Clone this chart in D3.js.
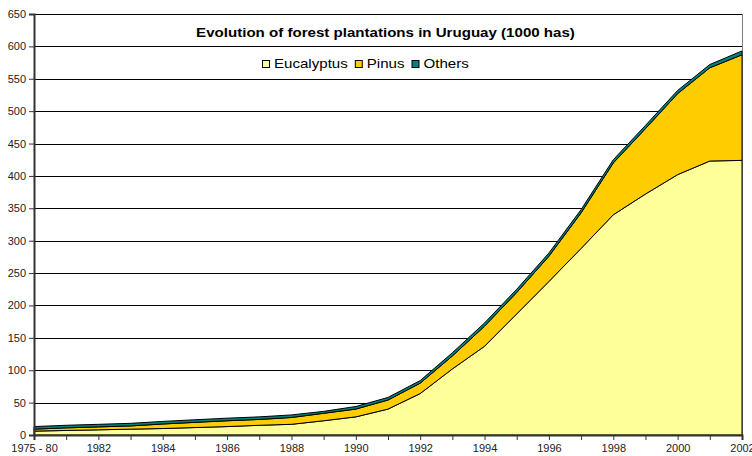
<!DOCTYPE html>
<html>
<head>
<meta charset="utf-8">
<script src="https://d3js.org/d3.v7.min.js"></script>
<style>
    body { margin: 0; background: #fff; }
    svg text { font-family: Arial, "Liberation Sans", sans-serif; }
</style>
</head>
<body>
<script>
// categories on the x axis
years = ["1975 - 80", "1981", "1982", "1983", "1984", "1985", "1986", "1987", "1988", "1989", "1990",
    "1991", "1992", "1993", "1994", "1995", "1996", "1997", "1998", "1999", "2000", "2001", "2002"]

// 1000 has
eucalyptus = [6, 7, 8, 9, 10, 11.5, 13, 15, 16.5, 22, 28, 40, 64, 102, 137, 187, 237, 288, 340, 372, 402, 423, 424]
pinus = [3, 4, 4.5, 5, 7, 8, 9, 9, 10.5, 11.5, 12, 14, 16, 20, 31, 33, 39, 55, 80, 101, 125, 144, 163]
others = [4, 4, 4, 4, 4, 4, 4, 4, 4, 3, 4, 4, 4, 5, 5, 5, 5, 5, 5, 5, 5, 5, 6]

yTicks = [0, 50, 100, 150, 200, 250, 300, 350, 400, 450, 500, 550, 600, 650]

seriesNames = ["Eucalyptus", "Pinus", "Others"]
colors = ["#FFFF99", "#FFCC00", "#008080"]

// note: "top" is taken by window.top, so plot* names
svgW = 752
svgH = 456
plotLeft = 34
plotRight = 742
plotTop = 14
plotBottom = 435

// the title/legend text in the original is a bit wider than plain Arial
stretch = 1.16

svg = d3.select("body").append("svg").attr("width", svgW).attr("height", svgH)

x = d3.scalePoint().domain(years).range([plotLeft, plotRight])
y = d3.scaleLinear().domain([0, 650]).range([plotBottom, plotTop])

// gridlines
svg.append("g").selectAll("line").data(yTicks.slice(1)).enter().append("line")
    .attr("x1", plotLeft).attr("x2", plotRight)
    .attr("y1", d => Math.round(y(d)) + 0.5).attr("y2", d => Math.round(y(d)) + 0.5)
    .attr("stroke", "#000").attr("stroke-width", 1)

// plot border on the right
svg.append("line").attr("x1", plotRight + 0.5).attr("x2", plotRight + 0.5).attr("y1", plotTop).attr("y2", plotBottom)
    .attr("stroke", "#808080")

// stack the series
table = years.map(function(yr, i) {
    return { year: yr, Eucalyptus: eucalyptus[i], Pinus: pinus[i], Others: others[i] }
})
stacked = d3.stack().keys(seriesNames)(table)

area = d3.area()
    .x(d => x(d.data.year))
    .y0(d => y(d[0]))
    .y1(d => y(d[1]))

svg.append("g").selectAll("path").data(stacked).enter().append("path")
    .attr("d", area)
    .attr("fill", (d, i) => colors[i])
    .attr("stroke", "#000")
    .attr("stroke-width", 1)
    .attr("stroke-linejoin", "round")

// y axis
yAxis = svg.append("g").attr("transform", "translate(" + plotLeft + ",0)")
    .call(d3.axisLeft(y).tickValues(yTicks).tickSize(5).tickPadding(3))
yAxis.select(".domain").attr("stroke", "#333").attr("stroke-width", 2)
yAxis.selectAll(".tick line").attr("stroke", "#333")
yAxis.selectAll("text").attr("font-size", 11).attr("fill", "#222").style("font-family", "Arial, 'Liberation Sans', sans-serif")

// x axis, label on every other category
xAxis = svg.append("g").attr("transform", "translate(0," + plotBottom + ")")
    .call(d3.axisBottom(x).tickSize(5).tickPadding(4).tickFormat((d, i) => i % 2 == 0 ? d : ""))
xAxis.select(".domain").attr("stroke", "#333").attr("stroke-width", 2)
xAxis.selectAll(".tick line").attr("stroke", "#333")
xAxis.selectAll("text").attr("font-size", 11).attr("fill", "#222").style("font-family", "Arial, 'Liberation Sans', sans-serif")

// title
title = svg.append("text").attr("x", 385.5).attr("y", 37)
    .attr("text-anchor", "middle").attr("font-size", 13).attr("font-weight", "bold")
    .text("Evolution of forest plantations in Uruguay (1000 has)")
title.attr("textLength", title.node().getComputedTextLength() * stretch).attr("lengthAdjust", "spacingAndGlyphs")

// legend
legend = svg.append("g")
lx = 262
seriesNames.forEach(function(name, i) {
    legend.append("rect").attr("x", lx + 0.5).attr("y", 60.5).attr("width", 7).attr("height", 7)
        .attr("fill", colors[i]).attr("stroke", "#000")
    t = legend.append("text").attr("x", lx + 12).attr("y", 68).attr("font-size", 13).text(name)
    w = t.node().getComputedTextLength() * stretch
    t.attr("textLength", w).attr("lengthAdjust", "spacingAndGlyphs")
    lx = lx + 12 + w + 7
})
</script>
</body>
</html>
